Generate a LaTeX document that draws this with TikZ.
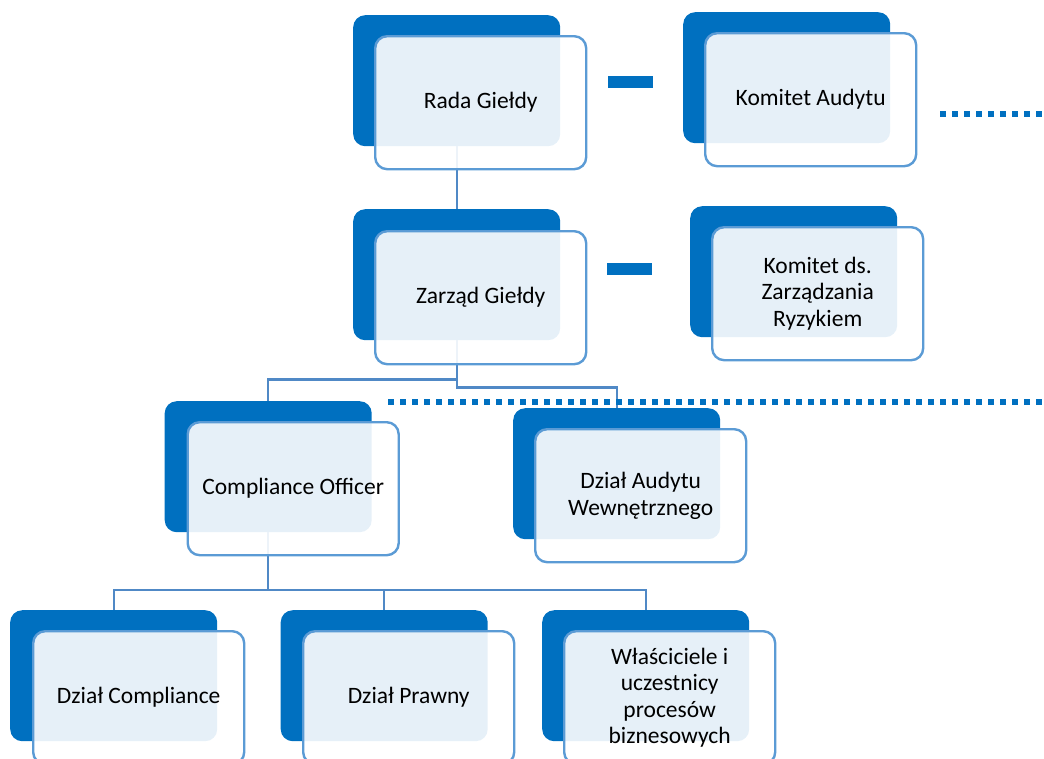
\documentclass[tikz,border=0pt]{standalone}
\usepackage{fontspec}
\setmainfont{Carlito}
\definecolor{darkblue}{HTML}{0070C0}
\definecolor{edgeblue}{HTML}{5B9BD5}
\definecolor{connblue}{HTML}{5089C6}
\begin{document}
\begin{tikzpicture}[x=1pt,y=-1pt,
  darkbox/.style={fill=darkblue, rounded corners=12pt, minimum width=207pt, minimum height=131pt, inner sep=0pt, anchor=north west},
  frontbox/.style={draw=edgeblue, line width=2.4pt, fill=white, fill opacity=0.9, text opacity=1, rounded corners=12pt, minimum width=211pt, minimum height=133pt, inner sep=0pt, anchor=north west, align=center, font=\fontsize{23.5}{26.5}\selectfont},
  conn/.style={draw=connblue, line width=2.2pt},
  dotline/.style={draw=darkblue, line width=6pt, dash pattern=on 6pt off 6pt},
  bar/.style={fill=darkblue}
]
\clip (0,0) rectangle (1044,758);
% back boxes
\node[darkbox] (rada) at (353,15) {};
\node[darkbox] (ka) at (683,12) {};
\node[darkbox] (zarzad) at (353,209) {};
\node[darkbox] (kzr) at (690,206) {};
\node[darkbox] (co) at (164.5,401) {};
\node[darkbox] (daw) at (513,408) {};
\node[darkbox] (dc) at (10,610) {};
\node[darkbox] (dp) at (280.5,610) {};
\node[darkbox] (wiu) at (542,610) {};
% bars
\fill[bar] (608,76) rectangle (653,88);
\fill[bar] (607,263) rectangle (652,275);
% connectors
\draw[conn] (rada.south) -- (zarzad.north);
\draw[conn] (zarzad.south) -- ++(0,39) -| (co.north);
\draw[conn] (zarzad.south) -- ++(0,47) -| (daw.north);
\draw[conn] (co.south) -- ++(0,57.5) -| (dc.north);
\draw[conn] (co.south) -- ++(0,57.5) -| (dp.north);
\draw[conn] (co.south) -- ++(0,57.5) -| (wiu.north);
% front boxes
\node[frontbox] (radaf) at (374,35) {Rada Giełdy};
\node[frontbox] (kaf) at (704,32) {Komitet Audytu};
\node[frontbox] (zarzadf) at (374,230) {Zarząd Giełdy};
\node[frontbox] (kzrf) at (711,226) {Komitet ds.\\Zarządzania\\Ryzykiem};
\node[frontbox] (cof) at (186.5,421) {Compliance Officer};
\node[frontbox] (dawf) at (534,428) {Dział Audytu\\Wewnętrznego};
\node[frontbox] (dcf) at (32,630) {Dział Compliance};
\node[frontbox] (dpf) at (302,630) {Dział Prawny};
\node[frontbox] (wiuf) at (563,630) {Właściciele i\\uczestnicy\\procesów\\biznesowych};
% dotted lines
\coordinate (d1s) at (940,114);
\coordinate (d1e) at (1050,114);
\coordinate (d2s) at (388,402);
\coordinate (d2e) at (1050,402);
\draw[dotline] (d1s) -- (d1e);
\draw[dotline] (d2s) -- (d2e);
\end{tikzpicture}
\end{document}
